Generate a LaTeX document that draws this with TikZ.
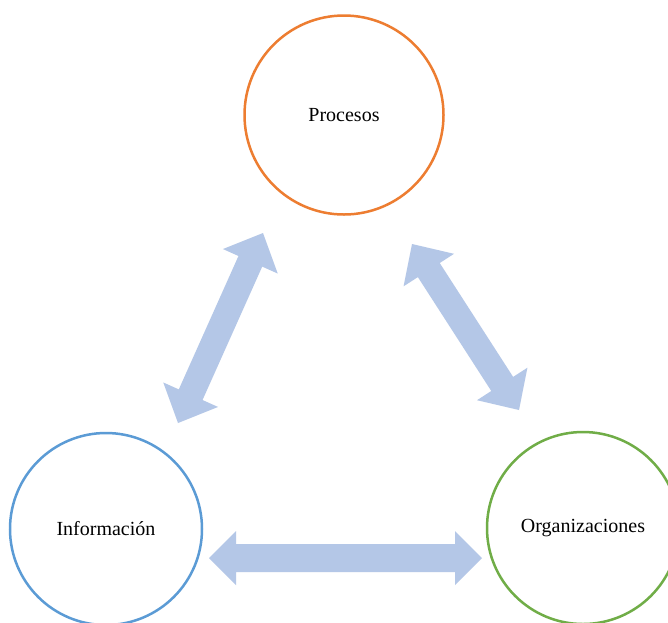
\documentclass[tikz,border=0pt]{standalone}
\usepackage{fontspec}
\setmainfont{Liberation Serif}
\usetikzlibrary{calc}
\definecolor{arrowblue}{HTML}{B4C7E7}
\definecolor{orng}{HTML}{ED7D31}
\definecolor{blu}{HTML}{5B9BD5}
\definecolor{grn}{HTML}{70AD47}
% #1 start, #2 end, #3 head length, #4 head half-width, #5 shaft half-width
\newcommand{\dblarrow}[5]{%
 \path ($(#1)!#3!(#2)$) coordinate (ha) ($(#2)!#3!(#1)$) coordinate (hb);
 \fill[arrowblue] (#1) -- ($(ha)!#4!90:(#2)$) -- ($(ha)!#5!90:(#2)$) -- ($(hb)!#5!-90:(#1)$) -- ($(hb)!#4!-90:(#1)$) -- (#2) -- ($(hb)!#4!90:(#1)$) -- ($(hb)!#5!90:(#1)$) -- ($(ha)!#5!-90:(#2)$) -- ($(ha)!#4!-90:(#2)$) -- cycle;}
\begin{document}
\begin{tikzpicture}[x=1pt,y=-1pt,
  circ/.style={circle, draw, line width=2.5pt, minimum size=#1, inner sep=0pt, font=\fontsize{20}{24}\selectfont}]
\useasboundingbox (0,0) rectangle (668,622);
\clip (0,0) rectangle (668,622);
\fill[white] (0,0) rectangle (668,622);
\node[circ=199pt, draw=orng] (proc) at (344,115) {Procesos};
\node[circ=192pt, draw=blu] (info) at (106,529) {Información};
\node[circ=192pt, draw=grn] (org) at (583,528) {Organizaciones};
\coordinate (l1) at (263,233);
\coordinate (l2) at (178,423);
\coordinate (r1) at (412,244);
\coordinate (r2) at (519,410);
\coordinate (b1) at (209,558);
\coordinate (b2) at (482,558);
\dblarrow{l1}{l2}{31pt}{30pt}{13pt}
\dblarrow{r1}{r2}{31pt}{30pt}{13pt}
\dblarrow{b1}{b2}{27pt}{27pt}{14pt}
\end{tikzpicture}
\end{document}
